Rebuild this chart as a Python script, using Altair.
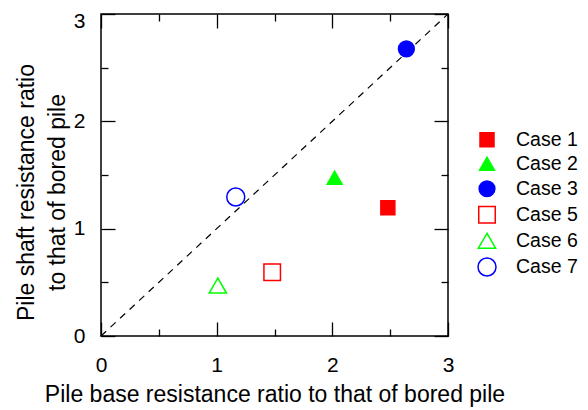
import altair as alt
import pandas as pd

# ---- data ----
cases = ["Case 1", "Case 2", "Case 3", "Case 5", "Case 6", "Case 7"]
base_ratio = [2.48, 2.02, 2.64, 1.48, 1.01, 1.165]
shaft_ratio = [1.195, 1.475, 2.675, 0.595, 0.47, 1.295]
stroke_colors = ["#ff0000", "#00ff00", "#0000ff", "#ff0000", "#00ff00", "#0000ff"]
fill_colors = ["#ff0000", "#00ff00", "#0000ff", "#ffffff", "#ffffff", "#ffffff"]
shapes = ["square", "triangle-up", "circle", "square", "triangle-up", "circle"]
sizes = [196, 324, 225, 196, 324, 225]

diag_vals = [0, 3]
major_ticks = [0, 1, 2, 3]
minor_ticks = [0.5, 1.5, 2.5]

x_title = "Pile base resistance ratio to that of bored pile"
y_title = ["Pile shaft resistance ratio", "to that of bored pile"]

FONT = "Liberation Sans"

df = pd.DataFrame({"case": cases, "x": base_ratio, "y": shaft_ratio})
diag = pd.DataFrame({"x": diag_vals, "y": diag_vals})

xs = alt.Scale(domain=[0, 3], nice=False, zero=False)
ys = alt.Scale(domain=[0, 3], nice=False, zero=False)


def tick_axis(orient, values, size):
    return alt.Axis(orient=orient, values=values, tickSize=size, offset=-size,
                    labels=False, domain=False, grid=False, title=None,
                    tickColor="black", tickWidth=1.3)


x_label_axis = alt.Axis(orient="bottom", values=major_ticks, ticks=False, domain=False,
                        grid=False, labelFontSize=21, labelPadding=18, labelFlush=False,
                        labelColor="black", format="d",
                        title=x_title, titleFontSize=23, titleFontWeight="normal",
                        titleColor="black", titleBaseline="alphabetic", titleY=65,
                        titleX=173.5, titleAlign="center")
y_label_axis = alt.Axis(orient="left", values=major_ticks, ticks=False, domain=False,
                        grid=False, labelFontSize=21, labelPadding=16, labelFlush=False,
                        labelColor="black", format="d",
                        labelOffset={"expr": "datum.value == 3 ? 7 : 0"},
                        title=y_title, titleFontSize=23, titleFontWeight="normal",
                        titleColor="black", titleBaseline="alphabetic", titleX=-68,
                        titleY=178, titleAngle=270, titleAlign="center",
                        titleLineHeight=31)

case_title = None
points = alt.Chart(df).mark_point(opacity=1, strokeWidth=1.5).encode(
    x=alt.X("x:Q", scale=xs, axis=x_label_axis),
    y=alt.Y("y:Q", scale=ys, axis=y_label_axis),
    color=alt.Color("case:N", scale=alt.Scale(domain=cases, range=stroke_colors), title=case_title),
    fill=alt.Fill("case:N", scale=alt.Scale(domain=cases, range=fill_colors), title=case_title),
    shape=alt.Shape("case:N", scale=alt.Scale(domain=cases, range=shapes), title=case_title),
    size=alt.Size("case:N", scale=alt.Scale(domain=cases, range=sizes), title=case_title),
)

line = alt.Chart(diag).mark_line(color="black", strokeWidth=1.2, strokeDash=[7, 6]).encode(
    x=alt.X("x:Q", scale=xs, axis=tick_axis("bottom", major_ticks, 14)),
    y=alt.Y("y:Q", scale=ys, axis=tick_axis("left", major_ticks, 14)),
)

inv1 = alt.Chart(df).mark_point(opacity=0).encode(
    x=alt.X("x:Q", scale=xs, axis=tick_axis("bottom", minor_ticks, 7)),
    y=alt.Y("y:Q", scale=ys, axis=tick_axis("left", minor_ticks, 7)),
)
inv2 = alt.Chart(df).mark_point(opacity=0).encode(
    x=alt.X("x:Q", scale=xs, axis=tick_axis("top", major_ticks, 14)),
    y=alt.Y("y:Q", scale=ys, axis=tick_axis("right", major_ticks, 14)),
)
inv3 = alt.Chart(df).mark_point(opacity=0).encode(
    x=alt.X("x:Q", scale=xs, axis=tick_axis("top", minor_ticks, 7)),
    y=alt.Y("y:Q", scale=ys, axis=tick_axis("right", minor_ticks, 7)),
)

chart = alt.layer(line, inv1, inv2, inv3, points).resolve_axis(
    x="independent", y="independent"
).properties(
    width=347, height=322,
    autosize=alt.AutoSizeParams(type="none"),
    padding={"left": 93, "top": 6, "right": 132, "bottom": 72},
).configure(
    font=FONT,
).configure_view(
    stroke="black", strokeWidth=1.5,
).configure_axis(
    labelFont=FONT, titleFont=FONT,
).configure_legend(
    orient="none", legendX=376, legendY=116, labelFont=FONT, labelFontSize=19.5,
    labelColor="black", labelOffset=19, symbolStrokeWidth=1.5, rowPadding=3,
    padding=0, titlePadding=0,
)

chart.save("out.html", embed_options={"renderer": "svg", "actions": False})
